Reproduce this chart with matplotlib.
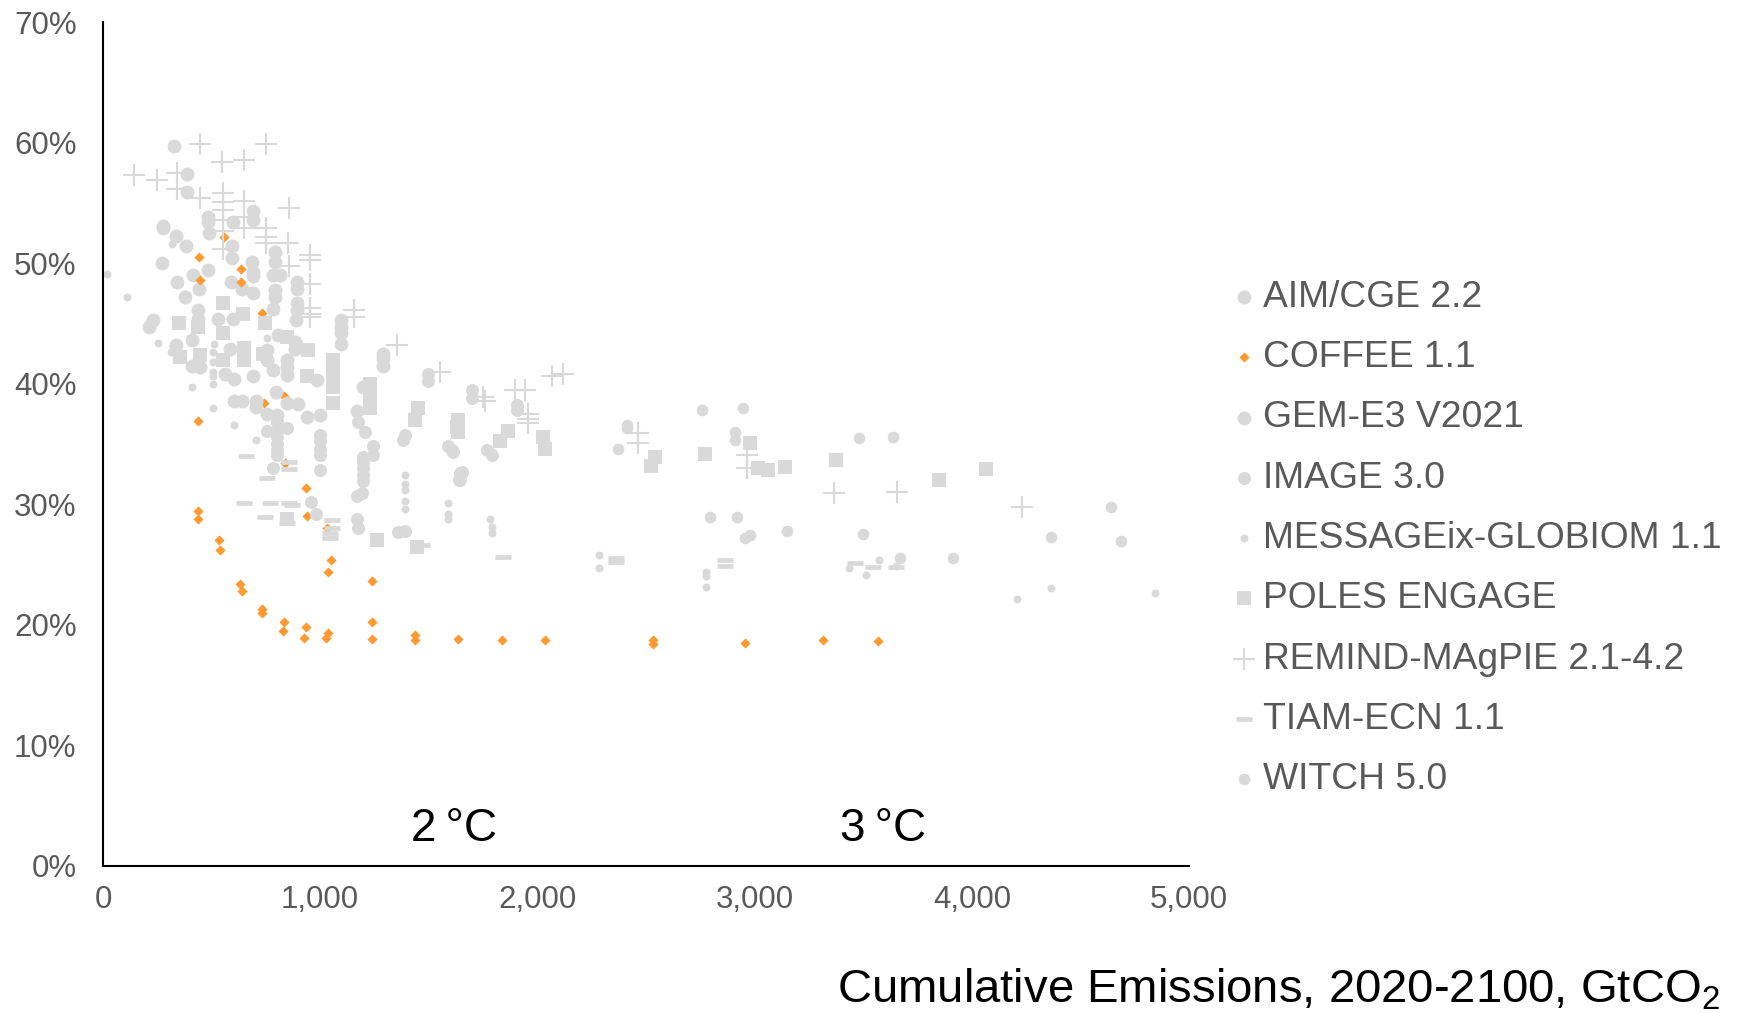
import matplotlib
matplotlib.use("Agg")
import matplotlib.pyplot as plt
from matplotlib.ticker import FuncFormatter, MultipleLocator

plt.rcParams['font.family'] = ['Liberation Sans', 'DejaVu Sans']
plt.rcParams['mathtext.fontset'] = 'custom'
plt.rcParams['mathtext.rm'] = 'Liberation Sans'

# ---------------- data (cumulative emissions GtCO2, share %) ----------------
aim_x = [327, 385, 388, 690, 690, 485, 485, 597, 276, 276, 488, 335, 384, 592, 592, 793, 793, 273,
         684, 485, 692, 692, 781, 815, 413, 339, 442, 588, 638, 689, 792, 792, 892, 892, 378, 781,
         895, 895, 889, 439, 439, 531, 600, 232, 212]
aim_y = [59.7, 57.4, 55.9, 54.3, 53.6, 53.8, 53.4, 53.4, 53.1, 52.9, 52.5, 52.3, 51.4, 51.4, 50.4, 50.9,
         50.1, 50.0, 50.1, 49.4, 49.3, 48.9, 49.0, 49.0, 49.0, 48.4, 47.9, 48.4, 47.9, 47.5, 47.8, 47.2,
         48.4, 47.9, 47.2, 46.2, 46.7, 46.1, 45.3, 46.1, 45.4, 45.4, 45.4, 45.3, 44.7]

coffee_x = [558, 443, 635, 447, 635, 730, 835, 743, 439, 838, 935, 938, 1030, 439, 439, 534, 539, 1048,
            1037, 1237, 631, 638, 734, 730, 835, 827, 935, 927, 1034, 1025, 1237, 1237, 1436, 1436,
            1636, 1835, 2035, 2534, 2534, 2956, 3313, 3566]
coffee_y = [52.2, 50.5, 49.5, 48.6, 48.4, 45.9, 39.0, 38.4, 36.9, 33.4, 31.3, 29.0, 28.0, 29.4, 28.8,
            27.0, 26.2, 25.4, 24.4, 23.6, 23.4, 22.8, 21.3, 21.0, 20.2, 19.5, 19.8, 18.9, 19.3, 18.9,
            20.2, 18.8, 19.1, 18.7, 18.8, 18.7, 18.7, 18.7, 18.4, 18.5, 18.7, 18.6]

gem_x = [1094, 1094, 1094, 1094, 336, 408, 585, 807, 884, 884, 408, 447, 753, 753, 846, 846, 1290,
         1290, 1290, 562, 603, 692, 781, 846, 984, 1199, 603, 638, 703, 703, 797, 846, 899, 1168, 753,
         799, 938, 999]
gem_y = [45.3, 44.7, 44.2, 43.3, 43.2, 43.6, 42.9, 44.0, 43.5, 42.9, 41.5, 41.4, 42.8, 42.0, 42.0,
         41.4, 42.5, 42.1, 41.5, 40.8, 40.4, 40.6, 41.1, 40.7, 40.3, 39.7, 38.6, 38.6, 38.6, 38.1,
         39.3, 38.4, 38.3, 37.7, 37.5, 37.4, 37.2, 37.4]

image_x = [1174, 1206, 799, 846, 799, 799, 799, 753, 999, 999, 999, 999, 999, 799, 799, 784, 1245,
           1245, 1198, 1198, 1198, 1198, 1198, 1390, 1383, 1590, 1605, 1644, 1644, 1766, 1789, 960,
           983, 1168, 1191, 1168, 1175, 1360, 1390, 1498, 1498, 1697, 1697, 1905, 1905, 1613, 1651,
           1641]
image_y = [36.8, 36.0, 36.8, 36.3, 36.1, 35.6, 35.0, 36.1, 35.7, 35.2, 34.6, 34.1, 32.8, 34.5, 34.1,
           33.0, 34.8, 34.1, 33.9, 33.5, 33.0, 32.4, 31.9, 35.7, 35.3, 34.8, 34.5, 32.6, 32.0, 34.5,
           34.1, 30.2, 29.2, 30.7, 30.9, 28.8, 28.0, 27.7, 27.8, 40.8, 40.2, 39.5, 38.8, 38.2, 37.8,
           34.3, 32.7, 32.0]

msg_x = [17, 112, 316, 255, 511, 756, 311, 505, 505, 505, 505, 508, 408, 505, 603, 703, 1390, 1390,
         1390, 1390, 1390, 1590, 1590, 1590, 1784, 1789, 1789, 2284, 2284, 2776, 2776, 2776, 3574,
         3435, 3513, 3650, 4206, 4366, 4842]
msg_y = [49.1, 47.2, 51.6, 43.4, 43.3, 43.8, 42.6, 42.6, 41.8, 41.0, 40.6, 40.0, 39.7, 38.0, 36.6,
         35.3, 32.4, 31.7, 31.2, 30.3, 29.6, 30.1, 29.2, 28.8, 28.8, 28.1, 27.6, 25.8, 24.7, 24.4,
         24.0, 23.1, 25.4, 24.7, 24.1, 24.9, 22.1, 23.0, 22.6]

poles_x = [551, 643, 350, 436, 551, 746, 649, 649, 551, 354, 447, 737, 846, 944, 1059, 1059, 1059,
           1059, 938, 1229, 1229, 1229, 1450, 1634, 1436, 1630, 847, 1262, 1446, 1633, 1866, 1828,
           2024, 2035, 2541, 2521, 2772, 2979, 3016, 3062, 3140, 3375, 3849, 4065]
poles_y = [46.7, 45.8, 45.0, 44.7, 44.2, 45.0, 43.0, 42.0, 42.0, 42.2, 42.4, 42.5, 43.9, 42.8, 42.0,
           40.9, 39.7, 38.4, 40.6, 40.0, 39.0, 38.0, 38.0, 37.0, 37.0, 36.4, 28.8, 27.0, 26.4, 36.0,
           36.1, 35.2, 35.6, 34.6, 33.9, 33.2, 34.2, 35.1, 33.0, 32.8, 33.1, 33.7, 32.0, 32.9]

remind_x = [447, 750, 144, 247, 341, 341, 546, 649, 447, 551, 551, 551, 551, 551, 551, 649, 649, 649,
            750, 750, 750, 856, 852, 856, 953, 953, 953, 953, 953, 953, 1156, 1156, 1354, 1551, 1750,
            1759, 1897, 1943, 1957, 1957, 1957, 2066, 2119, 2463, 2463, 2963, 2963, 3366, 3656, 4229]
remind_y = [59.9, 59.9, 57.3, 56.9, 57.5, 56.2, 58.4, 58.6, 55.4, 55.8, 55.1, 54.4, 53.6, 52.7, 51.2,
            55.2, 53.8, 52.9, 52.9, 52.2, 51.7, 54.6, 51.7, 49.8, 50.7, 50.3, 48.3, 46.3, 45.8, 45.5,
            46.1, 45.5, 43.2, 41.0, 38.9, 38.6, 39.5, 39.5, 37.5, 37.1, 36.7, 40.6, 40.8, 35.9, 35.1,
            34.1, 33.0, 30.9, 31.0, 29.8]

tiam_x = [657, 753, 856, 856, 649, 769, 856, 869, 746, 848, 1053, 1053, 1045, 1045, 1467, 1840, 2362,
          2362, 2864, 2864, 3460, 3545, 3650]
tiam_y = [34.0, 32.2, 33.5, 32.9, 30.1, 30.1, 30.1, 29.9, 28.9, 28.4, 28.7, 28.0, 27.6, 27.2, 26.6,
          25.6, 25.5, 25.2, 25.4, 24.9, 25.1, 24.8, 24.8]

witch_x = [2756, 2948, 2910, 2910, 2795, 2917, 2956, 2979, 3148, 3481, 3636, 3501, 3669, 3915, 4366,
           4642, 4685, 2373, 2411, 2411]
witch_y = [37.8, 38.0, 36.0, 35.3, 28.9, 28.9, 27.2, 27.4, 27.8, 35.5, 35.6, 27.5, 25.5, 25.5, 27.3,
           29.8, 26.9, 34.6, 36.6, 36.3]

labels = ["AIM/CGE 2.2", "COFFEE 1.1", "GEM-E3 V2021", "IMAGE 3.0", "MESSAGEix-GLOBIOM 1.1",
          "POLES ENGAGE", "REMIND-MAgPIE 2.1-4.2", "TIAM-ECN 1.1", "WITCH 5.0"]
temp_labels = ["2\u2009°C", "3\u2009°C"]
temp_x = [1615, 3593]

# ---------------- figure ----------------
GRAY = "#D9D9D9"
ORANGE = "#FF9A33"
TXT = "#595959"

fig = plt.figure(figsize=(17.42, 10.13), dpi=100)
ax = fig.add_axes([0.0591, 0.1456, 0.6235, 0.8324])

series = [
    (aim_x, aim_y, dict(marker='o', s=100, color=GRAY, linewidths=0)),
    (coffee_x, coffee_y, dict(marker='D', s=27, color=ORANGE, linewidths=0)),
    (gem_x, gem_y, dict(marker='o', s=100, color=GRAY, linewidths=0)),
    (image_x, image_y, dict(marker='o', s=88, color=GRAY, linewidths=0)),
    (msg_x, msg_y, dict(marker='o', s=33, color=GRAY, linewidths=0)),
    (poles_x, poles_y, dict(marker='s', s=100, color=GRAY, linewidths=0)),
    (remind_x, remind_y, dict(marker='+', s=229, color=GRAY, linewidths=1.5)),
    (tiam_x, tiam_y, dict(marker='_', s=133, color=GRAY, linewidths=3.4)),
    (witch_x, witch_y, dict(marker='o', s=70, color=GRAY, linewidths=0)),
]
for (xs, ys, kw), lab in zip(series, labels):
    ax.scatter(xs, ys, label=lab, **kw)

ax.set_xlim(0, 5000)
ax.set_ylim(0, 70)
ax.xaxis.set_major_locator(MultipleLocator(1000))
ax.yaxis.set_major_locator(MultipleLocator(10))
ax.xaxis.set_major_formatter(FuncFormatter(lambda v, p: f"{v:,.0f}"))
ax.yaxis.set_major_formatter(FuncFormatter(lambda v, p: f"{v:.0f}%"))
ax.tick_params(axis='both', length=0, labelsize=22.5, labelcolor=TXT)
ax.tick_params(axis='x', pad=14)
ax.tick_params(axis='y', pad=19)
for side in ['top', 'right']:
    ax.spines[side].set_visible(False)
for side in ['left', 'bottom']:
    ax.spines[side].set_linewidth(1.5)
    ax.spines[side].set_color('black')

for lab, tx in zip(temp_labels, temp_x):
    ax.text(tx, 2.0, lab, ha='center', va='baseline', fontsize=33, color='black')

fig.text(0.9875, 0.01, r"Cumulative Emissions, 2020-2100, GtCO$_\mathregular{2}$",
         ha='right', va='baseline', fontsize=34, color='black')

leg = fig.legend(loc='center left', bbox_to_anchor=(1233 / 1742, 0.4685),
                 bbox_transform=fig.transFigure, frameon=False, fontsize=26.8,
                 handlelength=0.6, handletextpad=0.2, labelspacing=0.68,
                 borderpad=0, borderaxespad=0, scatterpoints=1)
for t in leg.get_texts():
    t.set_color(TXT)

fig.savefig("out.png", dpi=100)
